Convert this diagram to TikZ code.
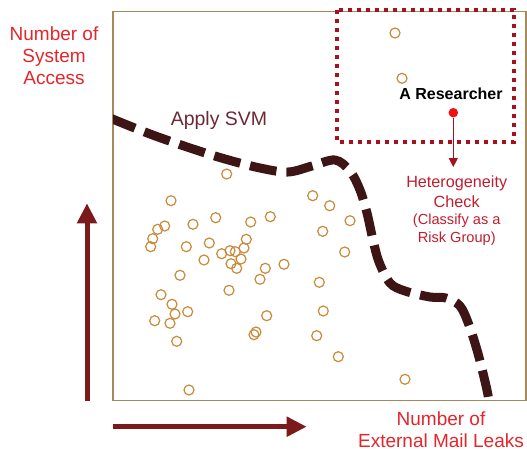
\documentclass[tikz,border=0pt]{standalone}
\usepackage{fontspec}
\setmainfont{Liberation Sans}
\usetikzlibrary{arrows.meta}

\definecolor{axisred}{HTML}{7B1A1A}
\definecolor{svmbrown}{HTML}{3E1515}
\definecolor{boxred}{HTML}{A5121E}
\definecolor{framebrown}{HTML}{A68A5B}
\definecolor{samplebrown}{HTML}{C98A3C}
\definecolor{labelred}{HTML}{E3262B}
\definecolor{svmtext}{HTML}{6B2A35}
\definecolor{checkred}{HTML}{C01E2E}
\definecolor{dotred}{HTML}{F01010}

\begin{document}
\begin{tikzpicture}[x=1pt, y=-1pt,
    lbl/.style={text=labelred, align=center, inner sep=0pt,
                font=\fontsize{19}{22}\selectfont},
    sample/.style={draw=samplebrown, line width=1.2pt},
    axis/.style={draw=axisred, line width=5pt,
                 -{Triangle[width=19pt,length=20pt]}},
    boundary/.style={draw=svmbrown, line width=9pt,
                     dash pattern=on 27pt off 10pt}]
\useasboundingbox (0,0) rectangle (527,450);

% plot area
\draw[framebrown, line width=1.2pt] (113,11.7) rectangle (526,400.7);

% axes
\coordinate (yfrom) at (87,400.7);
\coordinate (yto)   at (87,203.3);
\coordinate (xfrom) at (113,426.7);
\coordinate (xto)   at (306.7,426.7);
\draw[axis] (yfrom) -- (yto);
\draw[axis] (xfrom) -- (xto);

\node[lbl] (ylabel) at (54,56) {Number of\\System\\Access};
\node[lbl] (xlabel) at (441,429.5) {Number of\\External Mail Leaks};

% samples
\foreach \x/\y in {226.7/174, 171/200.7, 312.7/195.7, 329.7/205.7, 350/220.7,
    322.7/231.3, 344.7/252, 164.7/226, 157.7/229.3, 152.7/238.7, 150.7/246.7,
    193/224.3, 215.7/217.7, 250.7/222, 270.3/216.7, 186.3/246.7, 209.3/243,
    204/260, 221.7/253.7, 230/250.7, 235.3/251.7, 244/248, 246.3/239.3,
    241/259, 231/263.7, 236.7/268.3, 265.3/268.3, 284/264.3, 260/279.3,
    180/275.3, 229/290.3, 319.3/282.3, 161/294.7, 172/304.3, 175/314,
    187.7/311.7, 154.7/320.7, 170/323.3, 176.7/341.3, 266.7/315.7,
    323.3/311, 254/334.7, 256/332, 316.7/335.7, 338.3/356.7, 189/390,
    405/379.3, 395/33, 402/78.3}
  \draw[sample] (\x,\y) circle (5pt);

% svm boundary
\begin{scope}
  \clip (113,11.7) rectangle (526,400.7);
  \draw[boundary] plot[smooth, tension=0.55] coordinates {
    (110,118) (150,134) (190,148) (225,159) (260,168) (288,172) (312,166)
    (335,160) (350,171) (360,190) (367,213) (373,240) (379,262) (390,283)
    (405,291) (430,297) (446,298) (460,306) (469,325) (477,350) (483,373)
    (488,395) (490,410)};
\end{scope}
\node[text=svmtext, inner sep=0pt, font=\fontsize{19.5}{22}\selectfont]
  (svm) at (219,120.7) {Apply SVM};

% risk group
\draw[boxred, line width=4pt, dash pattern=on 4pt off 5pt]
  (337,10) rectangle (514,142);
\node[inner sep=0pt, font=\bfseries\fontsize{16}{19}\selectfont]
  (researcher) at (451,93.3) {A Researcher};
\node[circle, fill=dotred, inner sep=0pt, minimum size=9.5pt]
  (dot) at (453.3,112.7) {};
\node[text=checkred, align=center, inner sep=0pt, outer ysep=9pt,
      font=\fontsize{16.2}{20}\selectfont]
  (check) at (456.7,192) {Heterogeneity\\Check};
\node[text=checkred, align=center, inner sep=0pt,
      font=\fontsize{14.6}{18.3}\selectfont]
  (group) at (456.7,229.5) {(Classify as a\\Risk Group)};
\draw[boxred, line width=1pt, -{Triangle[width=9pt,length=9pt]}]
  (dot) -- (dot |- check.north);

\end{tikzpicture}
\end{document}
